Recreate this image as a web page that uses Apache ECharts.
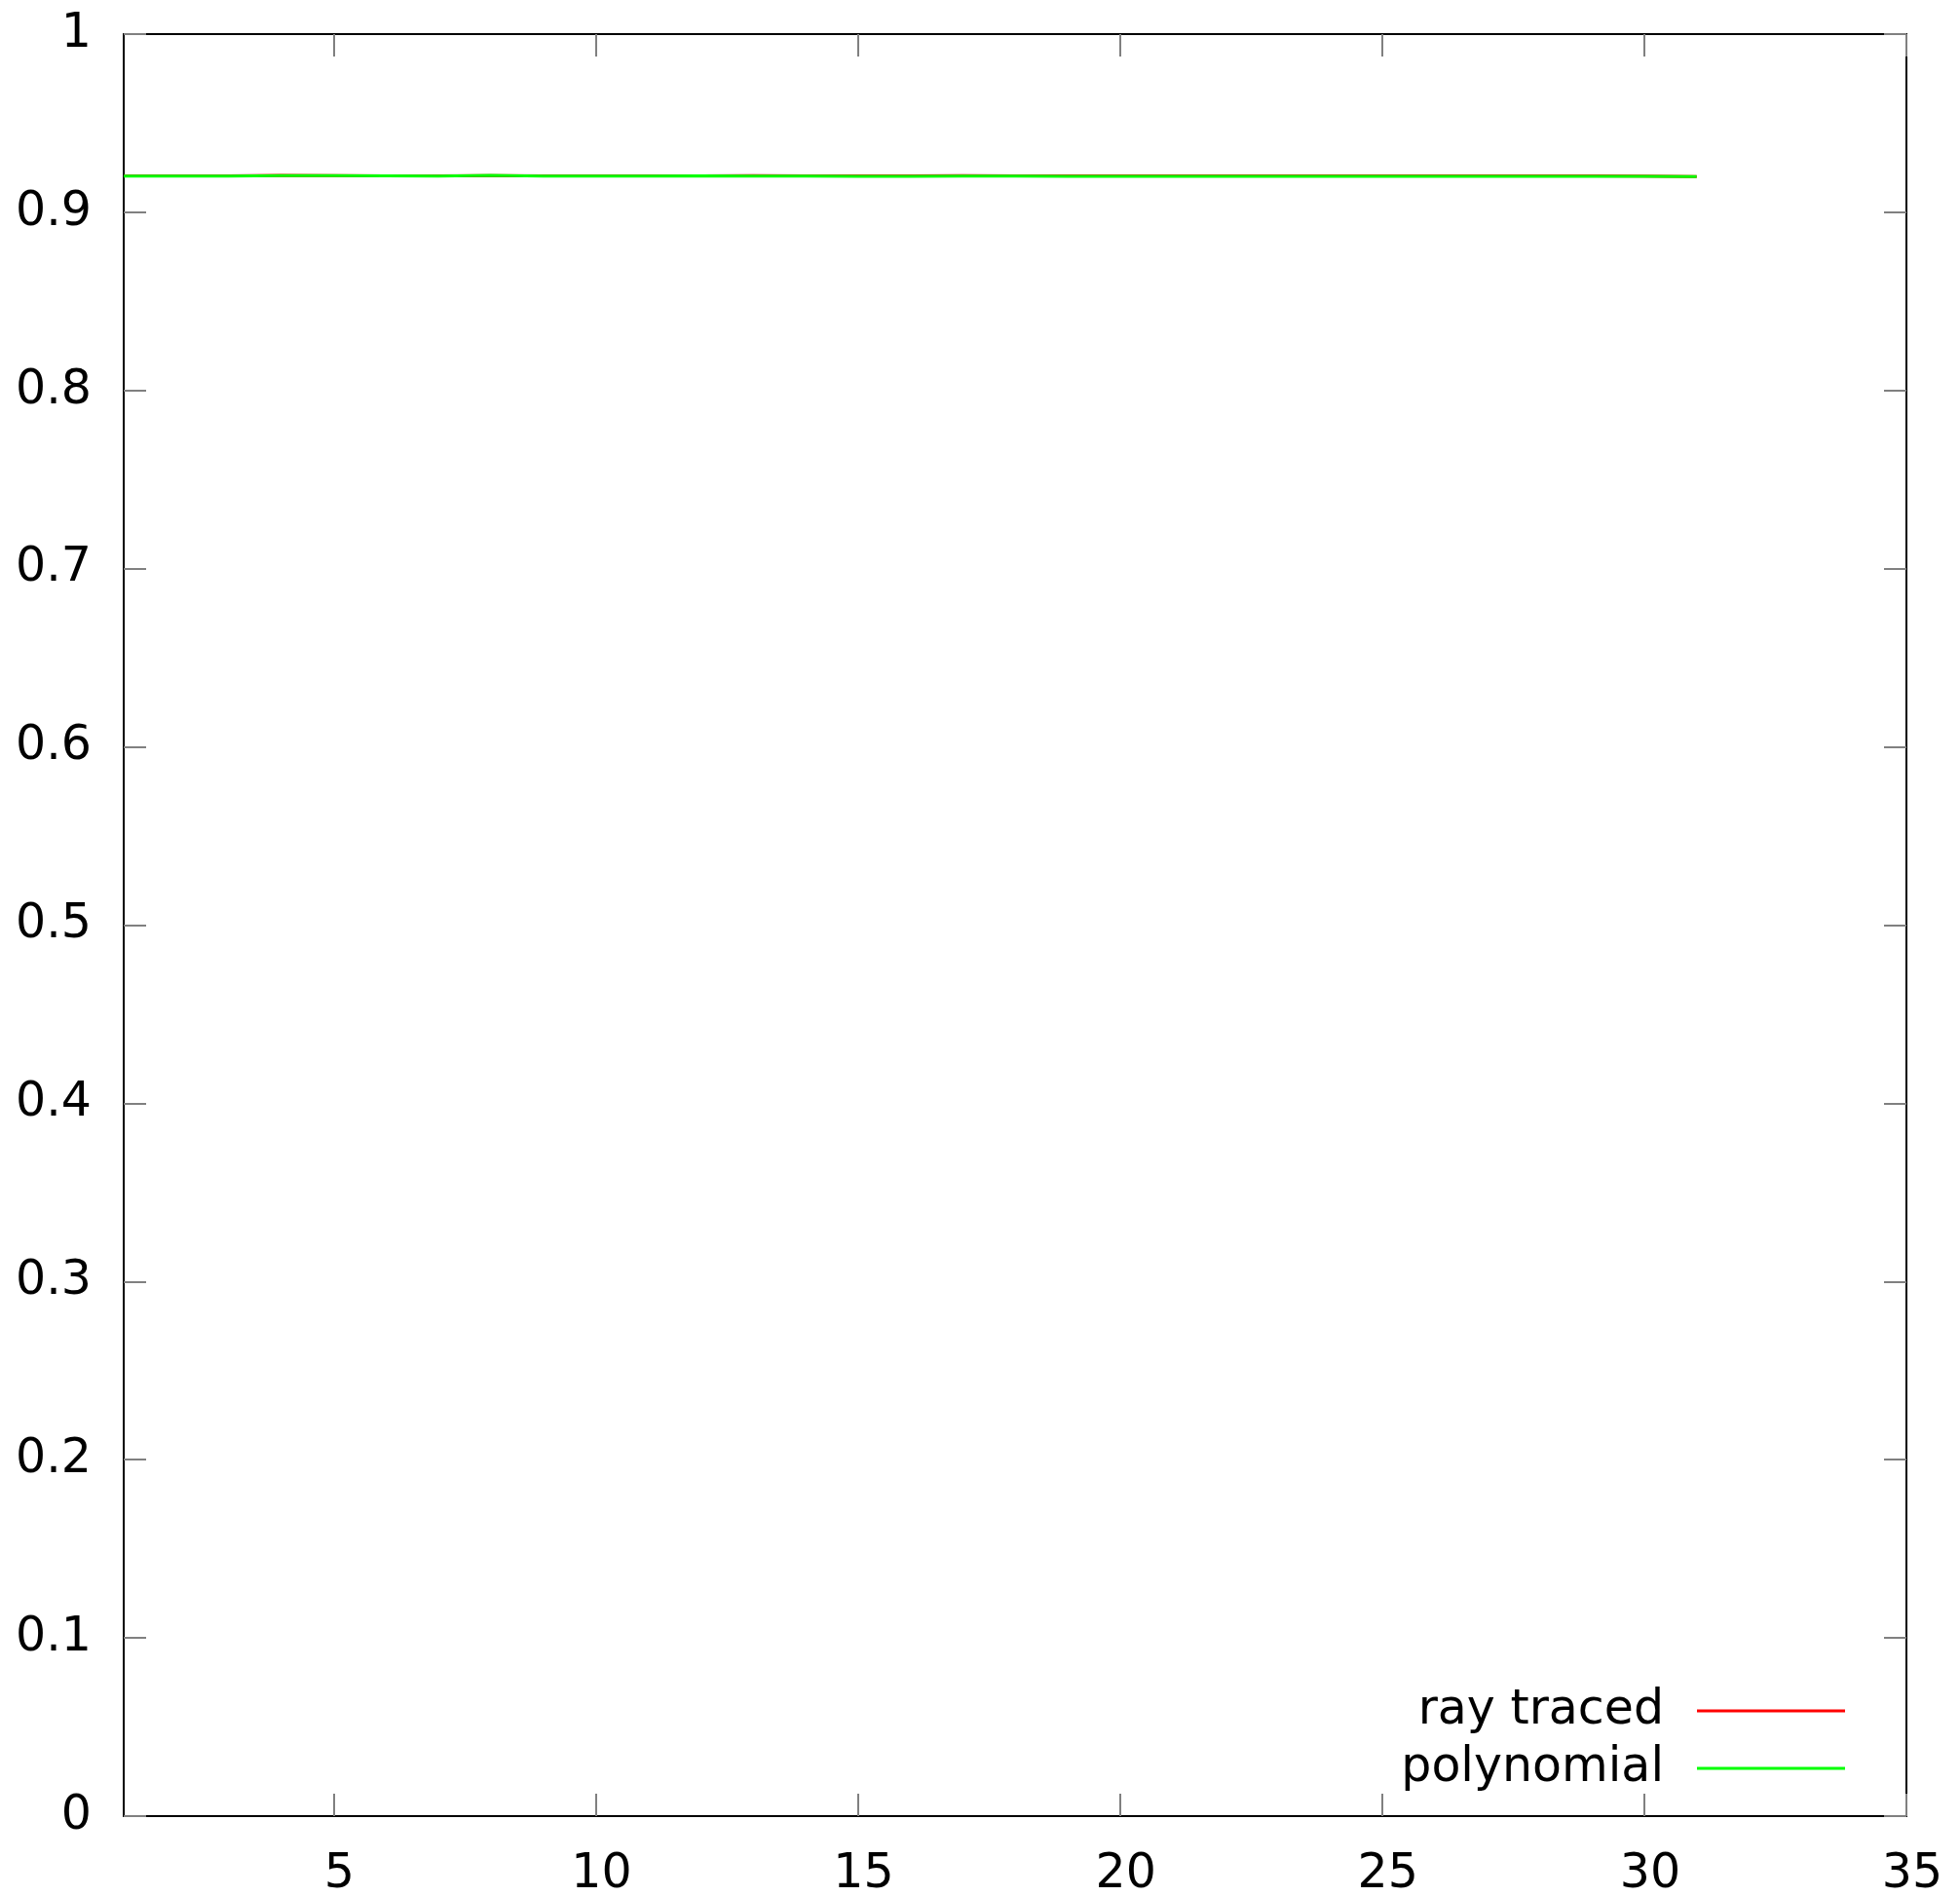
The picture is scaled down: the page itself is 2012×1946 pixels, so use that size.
<!DOCTYPE html>
<html>
<head>
<meta charset="utf-8">
<script src="https://cdn.jsdelivr.net/npm/echarts@6/dist/echarts.min.js"></script>
<style>
  html, body { margin: 0; padding: 0; background: #fff; }
  #chart { width: 2012px; height: 1946px; }
</style>
</head>
<body>
<div id="chart"></div>
<script>
// sample index along the x axis
const xValues = [1,2,3,4,5,6,7,8,9,10,11,12,13,14,15,16,17,18,19,20,21,22,23,24,25,26,27,28,29,30,31];
// ray traced result
const rayTraced = [0.9205,0.9204,0.9205,0.9207,0.9206,0.9205,0.9204,0.9206,0.9205,0.9204,0.9205,0.9205,0.9206,0.9205,0.9204,0.9205,0.9206,0.9205,0.9204,0.9205,0.9205,0.9204,0.9205,0.9205,0.9204,0.9205,0.9204,0.9205,0.9204,0.9203,0.9200];
// polynomial fit
const polynomial = [0.9203,0.9203,0.9203,0.9206,0.9206,0.9205,0.9203,0.9207,0.9203,0.9203,0.9203,0.9204,0.9203,0.9203,0.9202,0.9202,0.9203,0.9203,0.9202,0.9202,0.9202,0.9202,0.9202,0.9202,0.9202,0.9202,0.9202,0.9202,0.9202,0.9202,0.9201];
const xTicks = [5,10,15,20,25,30,35];
const yTicks = [0,0.1,0.2,0.3,0.4,0.5,0.6,0.7,0.8,0.9,1];

const FONT = 'DejaVu Sans';
const FS = 49;

const pairs = (ys) => xValues.map((x, i) => [x, ys[i]]);

const tickStyle = { show: true, inside: true, length: 23, lineStyle: { color: '#808080', width: 2 } };
const lineStyleAxis = { show: true, onZero: false, lineStyle: { color: '#000', width: 2 } };

const chart = echarts.init(document.getElementById('chart'), null, { renderer: 'canvas' });
chart.setOption({
  animation: false,
  backgroundColor: '#fff',
  grid: { left: 127, right: 55, top: 35, bottom: 82, containLabel: false, outerBoundsMode: 'none' },
  xAxis: [
    {
      type: 'value', min: 1, max: 35, position: 'bottom',
      axisLine: lineStyleAxis,
      axisTick: Object.assign({}, tickStyle, { customValues: xTicks }),
      axisLabel: { customValues: xTicks, margin: 36, color: '#000', fontFamily: FONT, fontSize: FS, padding: [0, 0, 0, 12] },
      splitLine: { show: false }
    },
    {
      type: 'value', min: 1, max: 35, position: 'top',
      axisLine: lineStyleAxis,
      axisTick: Object.assign({}, tickStyle, { customValues: xTicks }),
      axisLabel: { show: false },
      splitLine: { show: false }
    }
  ],
  yAxis: [
    {
      type: 'value', min: 0, max: 1, interval: 0.1, position: 'left',
      axisLine: lineStyleAxis,
      axisTick: tickStyle,
      axisLabel: { customValues: yTicks, margin: 33, color: '#000', fontFamily: FONT, fontSize: FS,
        formatter: (v) => String(parseFloat(v.toFixed(1))) },
      splitLine: { show: false }
    },
    {
      type: 'value', min: 0, max: 1, interval: 0.1, position: 'right',
      axisLine: lineStyleAxis,
      axisTick: tickStyle,
      axisLabel: { show: false },
      splitLine: { show: false }
    }
  ],
  legend: {
    orient: 'vertical',
    right: 118,
    top: 1730,
    padding: 0,
    align: 'right',
    itemWidth: 152,
    itemHeight: 3,
    itemGap: 7,
    icon: 'rect',
    textStyle: { fontFamily: FONT, fontSize: FS, color: '#000', lineHeight: 52, padding: [0, 29, 0, 0] },
    data: ['ray traced', 'polynomial']
  },
  series: [
    {
      name: 'ray traced', type: 'line', data: pairs(rayTraced),
      symbol: 'none', color: '#ff0000',
      lineStyle: { color: '#ff0000', width: 3 }
    },
    {
      name: 'polynomial', type: 'line', data: pairs(polynomial),
      symbol: 'none', color: '#00ff00',
      lineStyle: { color: '#00ff00', width: 3 }
    }
  ]
});
</script>
</body>
</html>
